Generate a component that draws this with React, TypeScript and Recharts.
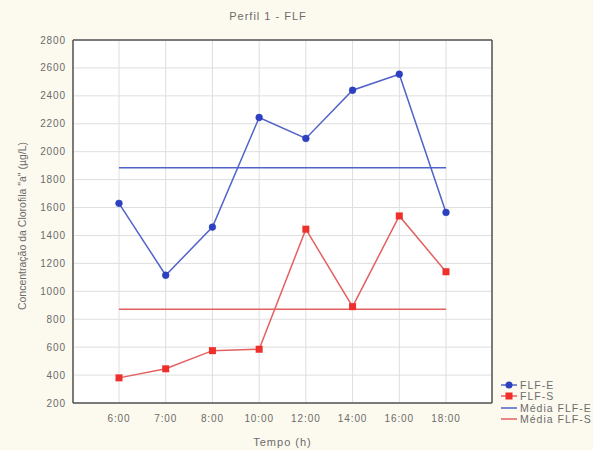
import {
  LineChart,
  Line,
  XAxis,
  YAxis,
  CartesianGrid,
  Legend,
} from 'recharts';

const TIMES = ['6:00', '7:00', '8:00', '10:00', '12:00', '14:00', '16:00', '18:00'];
const FLF_E = [1630, 1115, 1460, 2245, 2095, 2440, 2555, 1565];
const FLF_S = [380, 445, 575, 585, 1445, 890, 1540, 1140];
const MEDIA_E = [1885, 1885, 1885, 1885, 1885, 1885, 1885, 1885];
const MEDIA_S = [872, 872, 872, 872, 872, 872, 872, 872];
const Y_TICKS = [200, 400, 600, 800, 1000, 1200, 1400, 1600, 1800, 2000, 2200, 2400, 2600, 2800];

const data = TIMES.map((time, i) => ({
  time,
  flfE: FLF_E[i],
  flfS: FLF_S[i],
  mediaE: MEDIA_E[i],
  mediaS: MEDIA_S[i],
}));

const BLUE_LINE = '#5163c9';
const BLUE_DOT = '#2c40c0';
const RED_LINE = '#e46060';
const RED_DOT = '#ee2f2a';
const TEXT = '#6b6b6b';
const FRAME = '#555';
const FONT = '"Liberation Sans", Arial, sans-serif';

const tickStyle = { fontSize: 10, fill: TEXT, fontFamily: FONT, letterSpacing: 0.9 };

function SquareDot(props: any) {
  const { cx, cy, index } = props;
  if (cx == null || cy == null) return null;
  return <rect key={`sq-${index}`} x={cx - 3.5} y={cy - 3.5} width={7} height={7} fill={RED_DOT} />;
}

// y-axis title, rotated, roughly centred on the plot area
function YLabel() {
  const cx = 22;
  const cy = 226;
  return (
    <text
      x={cx}
      y={cy}
      transform={`rotate(-90 ${cx} ${cy})`}
      textAnchor="middle"
      dominantBaseline="central"
      fontSize={10.5}
      fill={TEXT}
      fontFamily={FONT}
    >
      Concentração da Clorofila "a" (µg/L)
    </text>
  );
}

const LEGEND_ITEMS = [
  { label: 'FLF-E', color: BLUE_LINE, marker: 'circle', markerColor: BLUE_DOT },
  { label: 'FLF-S', color: RED_LINE, marker: 'square', markerColor: RED_DOT },
  { label: 'Média FLF-E', color: BLUE_LINE, marker: 'none', markerColor: '' },
  { label: 'Média FLF-S', color: RED_LINE, marker: 'none', markerColor: '' },
];

function ChartLegend() {
  return (
    <div style={{ fontFamily: FONT, fontSize: 10.5, color: TEXT, letterSpacing: 1, whiteSpace: 'nowrap' }}>
      {LEGEND_ITEMS.map((it) => (
        <div key={it.label} style={{ display: 'flex', alignItems: 'center', height: 11.5 }}>
          <svg width={16} height={10} style={{ marginRight: 3 }}>
            <line x1={0} y1={5} x2={16} y2={5} stroke={it.color} strokeWidth={1.5} />
            {it.marker === 'circle' && <circle cx={8} cy={5} r={3.5} fill={it.markerColor} />}
            {it.marker === 'square' && <rect x={4.5} y={1.5} width={7} height={7} fill={it.markerColor} />}
          </svg>
          <span>{it.label}</span>
        </div>
      ))}
    </div>
  );
}

export default function App() {
  return (
    <div
      style={{
        position: 'absolute',
        left: 0,
        top: 0,
        width: 593,
        height: 450,
        background: '#fcfaee',
        overflow: 'hidden',
      }}
    >
      <div
        style={{
          position: 'absolute',
          top: 10,
          left: 208,
          width: 120,
          textAlign: 'center',
          fontFamily: FONT,
          fontSize: 11,
          color: TEXT,
          letterSpacing: 1,
        }}
      >
        Perfil 1 - FLF
      </div>
      <LineChart
        width={593}
        height={450}
        data={data}
        margin={{ top: 39, right: 7, bottom: 0, left: 0 }}
      >
        <CartesianGrid stroke="#dedede" fill="#ffffff" />
        <XAxis
          dataKey="time"
          padding={{ left: 46, right: 46 }}
          height={47}
          tick={tickStyle}
          tickLine={false}
          tickMargin={6}
          axisLine={{ stroke: FRAME, strokeWidth: 1.5 }}
          interval={0}
          label={{
            value: 'Tempo (h)',
            position: 'insideBottom',
            offset: 4,
            style: { fontSize: 11, fill: TEXT, fontFamily: FONT, letterSpacing: 1 },
          }}
        />
        <XAxis
          xAxisId="top"
          orientation="top"
          dataKey="time"
          padding={{ left: 46, right: 46 }}
          height={1}
          tick={false}
          tickLine={false}
          axisLine={{ stroke: FRAME, strokeWidth: 1.5 }}
        />
        <YAxis
          domain={[200, 2800]}
          ticks={Y_TICKS}
          width={73}
          tick={tickStyle}
          tickLine={false}
          tickMargin={1}
          axisLine={{ stroke: FRAME, strokeWidth: 1.5 }}
          interval={0}
          label={<YLabel />}
        />
        <YAxis
          yAxisId="right"
          orientation="right"
          domain={[200, 2800]}
          width={1}
          tick={false}
          tickLine={false}
          axisLine={{ stroke: FRAME, strokeWidth: 1.5 }}
        />
        <Legend
          layout="vertical"
          align="right"
          verticalAlign="bottom"
          content={() => <ChartLegend />}
          wrapperStyle={{ width: 93, height: 48, left: 501, top: 379, bottom: 'auto', right: 'auto', overflow: 'hidden' }}
        />
        <Line
          type="linear"
          dataKey="mediaE"
          xAxisId="top"
          yAxisId="right"
          stroke={BLUE_LINE}
          strokeWidth={1.5}
          dot={false}
          activeDot={false}
          isAnimationActive={false}
        />
        <Line
          type="linear"
          dataKey="mediaS"
          xAxisId="top"
          yAxisId="right"
          stroke={RED_LINE}
          strokeWidth={1.5}
          dot={false}
          activeDot={false}
          isAnimationActive={false}
        />
        <Line
          type="linear"
          dataKey="flfE"
          stroke={BLUE_LINE}
          strokeWidth={1.5}
          dot={{ r: 3.4, fill: BLUE_DOT, stroke: BLUE_DOT, strokeWidth: 0.5 }}
          activeDot={false}
          isAnimationActive={false}
        />
        <Line
          type="linear"
          dataKey="flfS"
          stroke={RED_LINE}
          strokeWidth={1.5}
          dot={<SquareDot />}
          activeDot={false}
          isAnimationActive={false}
        />
      </LineChart>
    </div>
  );
}
